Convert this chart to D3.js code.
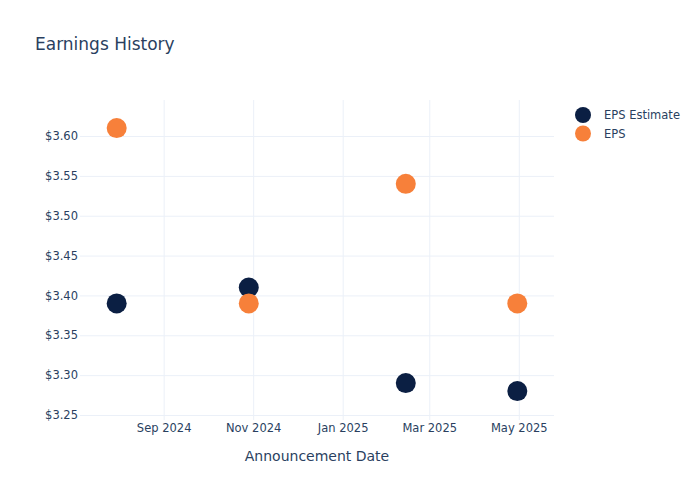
<!DOCTYPE html>
<html>
<head>
<meta charset="utf-8">
<script src="https://cdn.jsdelivr.net/npm/d3@7"></script>
<style>
  body { margin: 0; background: #fff; }
  text { font-family: "DejaVu Sans", sans-serif; fill: #2a3f5f; }
</style>
</head>
<body>
<div id="chart"></div>
<script>
// data
var dates = ['2024-07-31', '2024-10-29', '2025-02-13', '2025-04-30'];
var epsEstimate = [3.39, 3.41, 3.29, 3.28];
var epsActual = [3.61, 3.39, 3.54, 3.39];
var seriesNames = ['EPS Estimate', 'EPS'];
var seriesColors = ['#0b1f43', '#f7803a'];
var xTickDates = ['2024-09-01', '2024-11-01', '2025-01-01', '2025-03-01', '2025-05-01'];
var yTicks = [3.25, 3.30, 3.35, 3.40, 3.45, 3.50, 3.55, 3.60];

var width = 700, height = 500;
var margin = {top: 100, right: 146, bottom: 80, left: 80};
var parse = d3.utcParse('%Y-%m-%d');

var svg = d3.select('#chart').append('svg')
  .attr('width', width)
  .attr('height', height);

// scales
var x = d3.scaleUtc()
  .domain([parse('2024-07-06'), parse('2025-05-25')])
  .range([margin.left, width - margin.right]);
var y = d3.scaleLinear()
  .domain([3.2437, 3.6452])
  .range([height - margin.bottom, margin.top]);

// grid + axes
var xAxis = d3.axisBottom(x)
  .tickValues(xTickDates.map(parse))
  .tickFormat(d3.utcFormat('%b %Y'))
  .tickSize(-(height - margin.top - margin.bottom));
var gx = svg.append('g')
  .attr('transform', 'translate(0,' + (height - margin.bottom) + ')')
  .call(xAxis);

var yAxis = d3.axisLeft(y)
  .tickValues(yTicks)
  .tickFormat(function(d) { return '$' + d.toFixed(2); })
  .tickSize(-(width - margin.left - margin.right))
  .tickPadding(2);
var gy = svg.append('g')
  .attr('transform', 'translate(' + margin.left + ',0)')
  .call(yAxis);

[gx, gy].forEach(function(g) {
  g.select('.domain').remove();
  g.selectAll('line').attr('stroke', '#ebf0f8').attr('stroke-width', 1);
  g.selectAll('text').style('font-size', '11.5px').attr('fill', '#2a3f5f');
});
gx.selectAll('text').attr('dy', '0.71em').attr('y', 4);

// markers
var series = [epsEstimate, epsActual];
series.forEach(function(vals, i) {
  svg.append('g').selectAll('circle')
    .data(vals)
    .enter().append('circle')
    .attr('cx', function(d, j) { return x(parse(dates[j])); })
    .attr('cy', function(d) { return y(d); })
    .attr('r', 10)
    .style('fill', seriesColors[i]);
});

// title
svg.append('text')
  .attr('x', 35)
  .attr('y', 50)
  .style('font-size', '17px')
  .text('Earnings History');

// x axis title
svg.append('text')
  .attr('x', (margin.left + width - margin.right) / 2)
  .attr('y', 461)
  .attr('text-anchor', 'middle')
  .style('font-size', '14px')
  .text('Announcement Date');

// legend
var legend = svg.append('g').attr('transform', 'translate(583,115)');
seriesNames.forEach(function(name, i) {
  var row = legend.append('g').attr('transform', 'translate(0,' + (i * 18.5) + ')');
  row.append('circle').attr('r', 8).style('fill', seriesColors[i]);
  row.append('text')
    .attr('x', 21)
    .attr('y', 4)
    .style('font-size', '11.5px')
    .text(name);
});
</script>
</body>
</html>
